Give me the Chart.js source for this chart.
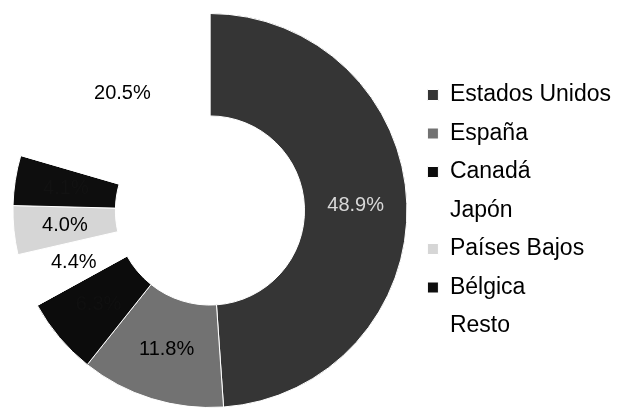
<!DOCTYPE html>
<html>
<head>
<meta charset="utf-8">
<script src="https://cdn.jsdelivr.net/npm/chart.js@4/dist/chart.umd.min.js"></script>
<style>
  html, body { margin: 0; padding: 0; background: #fff; }
  #wrap { width: 621px; height: 408px; }
</style>
</head>
<body>
<div id="wrap"><canvas id="chart"></canvas></div>
<script>
// shares by country (%)
var countries = ["Estados Unidos", "España", "Canadá", "Japón", "Países Bajos", "Bélgica", "Resto"];
var shares = [48.9, 11.8, 6.3, 4.4, 4.0, 4.1, 20.5];

var sliceColors = ["#353535", "#727272", "#0c0c0c", "#ffffff", "#d6d6d6", "#0e0e0e", "#ffffff"];
// labels on the two black slices are lost in the print
var labelColors = ["#d8d8d8", "#000000", "#101010", "#000000", "#000000", "#121212", "#000000"];

// draws the % value in the middle of each slice
var sliceLabels = {
  id: "sliceLabels",
  afterDatasetsDraw: function(chart) {
    var ctx = chart.ctx;
    var meta = chart.getDatasetMeta(0);
    ctx.save();
    ctx.font = "20px 'Liberation Sans', Arial, sans-serif";
    ctx.textAlign = "center";
    ctx.textBaseline = "middle";
    meta.data.forEach(function(arc, i) {
      var pos = arc.tooltipPosition();
      ctx.fillStyle = labelColors[i];
      ctx.fillText(shares[i].toFixed(1) + "%", pos.x, pos.y);
    });
    ctx.restore();
  }
};

var ctx = document.getElementById("chart").getContext("2d");
var chart = new Chart(ctx, {
  type: "doughnut",
  data: {
    labels: countries,
    datasets: [{
      data: shares,
      backgroundColor: sliceColors,
      borderColor: "#ffffff",
      borderWidth: 1
    }]
  },
  options: {
    responsive: true,
    maintainAspectRatio: false,
    animation: false,
    cutout: "48%",
    layout: { padding: { top: 13, bottom: 0, left: 8, right: 0 } },
    plugins: {
      tooltip: { enabled: false },
      legend: {
        position: "right",
        labels: {
          boxWidth: 11,
          boxHeight: 11,
          padding: 15.5,
          color: "#000",
          font: { size: 23, family: "'Liberation Sans', Arial, sans-serif" }
        }
      }
    }
  },
  plugins: [sliceLabels]
});
</script>
</body>
</html>
